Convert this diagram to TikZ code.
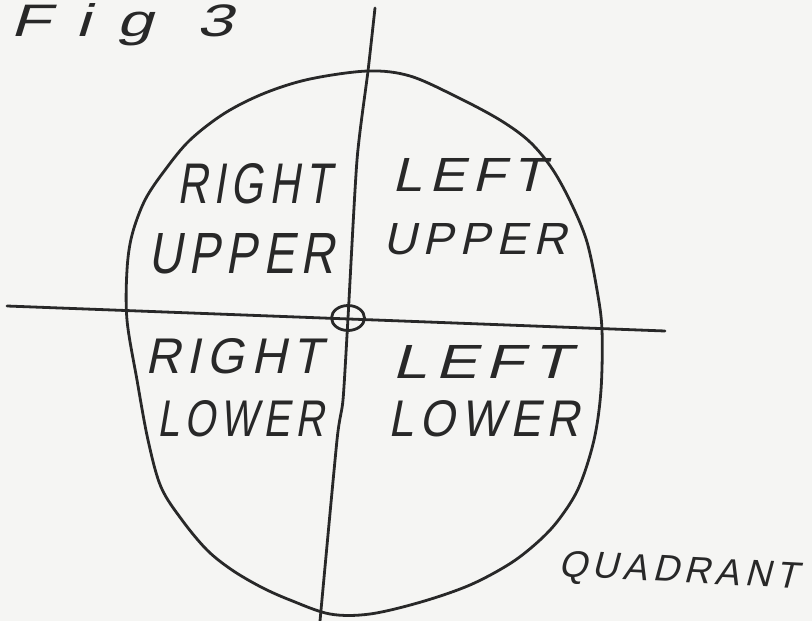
\documentclass[tikz,border=0pt]{standalone}
\usepackage{fontspec}
\usepackage{graphicx}
\usetikzlibrary{shapes.geometric}
\newfontfamily\handfont[FakeSlant=0.22,LetterSpace=14]{Liberation Sans}
\definecolor{ink}{RGB}{40,40,40}
\definecolor{paper}{RGB}{245,245,243}
\newcommand\hw[3]{\resizebox{#1pt}{#2pt}{\handfont #3}}
\begin{document}
\begin{tikzpicture}[x=1pt,y=-1pt,line cap=round,line join=round,
  pen/.style={draw=ink,line width=2.8pt},
  lbl/.style={anchor=base west,inner sep=0pt,text=ink}]
\fill[paper] (0,0) rectangle (812,621);
\useasboundingbox (0,0) rectangle (812,621);
% outline of the head
\draw[pen] plot[smooth cycle,tension=0.55] coordinates {
 (368,71) (410,76) (457,97) (500,120) (530,142) (553,170) (572,205)
 (587,242) (597,290) (602,330) (601,390) (594,440) (579,487) (560,518)
 (540,540) (511,563) (470,585) (421,602) (370,614) (330,614) (290,600)
 (261,587) (232,570) (207,550) (182,520) (161,487) (148,440) (137,380)
 (127,320) (127,270) (132,235) (145,200) (165,170) (190,140) (225,113)
 (265,93) (310,79)};
% axes
\draw[pen] plot[smooth,tension=0.4] coordinates {
 (375,8) (368,71) (357,160) (348,318) (343,400) (337,440) (320,621)};
\draw[pen] (7,306) -- (665,331);
\node[pen,ellipse,minimum width=33pt,minimum height=25pt,inner sep=0pt] (c) at (348,318) {};
% labels
\node[lbl] (fig) at (10,37) {\resizebox{222pt}{33pt}{\handfont\addfontfeature{LetterSpace=40}Fig 3}};
\node[lbl] (ru1) at (177,203) {\hw{154}{40}{RIGHT}};
\node[lbl] (ru2) at (148,273) {\hw{186}{40}{UPPER}};
\node[lbl] (lu1) at (392,191) {\hw{153}{33}{LEFT}};
\node[lbl] (lu2) at (383,254) {\hw{183}{31}{UPPER}};
\node[lbl] (rl1) at (145,373) {\hw{177}{35}{RIGHT}};
\node[lbl] (rl2) at (157,436) {\hw{167}{36}{LOWER}};
\node[lbl] (ll1) at (392,378) {\hw{178}{33}{LEFT}};
\node[lbl] (ll2) at (388,436) {\hw{191}{36}{LOWER}};
\node[lbl,rotate=-3] (q) at (558,576) {\hw{240}{26}{QUADRANT}};
\end{tikzpicture}
\end{document}
